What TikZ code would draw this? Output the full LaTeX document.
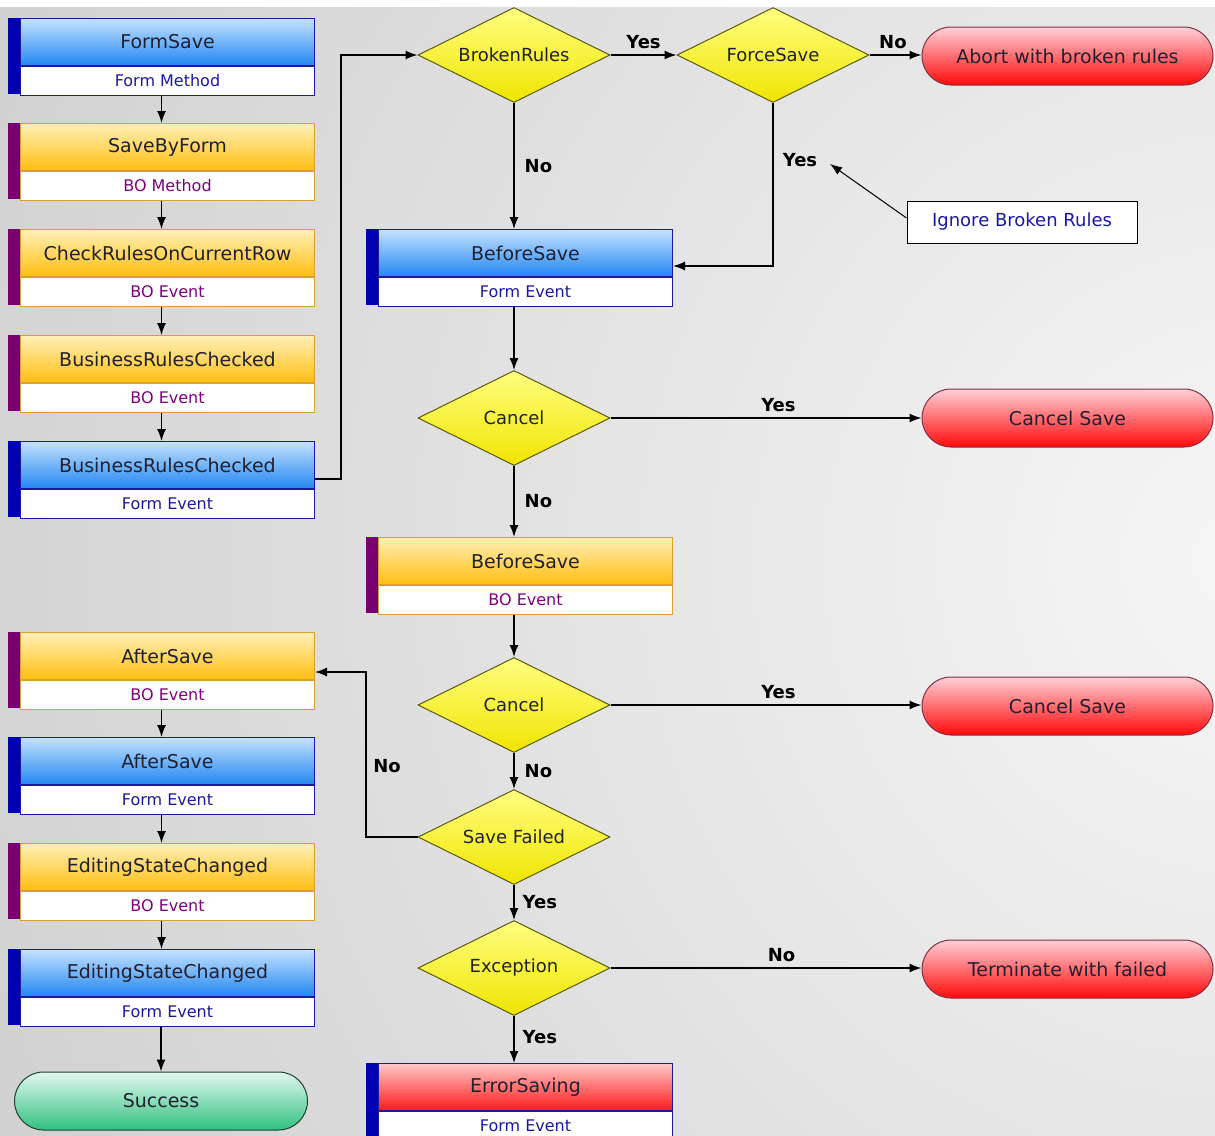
\documentclass[tikz,border=0pt]{standalone}
\usepackage{fontspec}
\setmainfont{DejaVu Sans}
\usetikzlibrary{shapes.geometric,arrows.meta}
\definecolor{bgdark}{HTML}{C0C0C0}
\definecolor{bglight}{HTML}{F6F6F6}
\definecolor{bluetop}{HTML}{C4E2FF}
\definecolor{bluebot}{HTML}{2286F2}
\definecolor{orgtop}{HTML}{FFF0B8}
\definecolor{orgbot}{HTML}{FFBE10}
\definecolor{redtop}{HTML}{FFC8C8}
\definecolor{redbot}{HTML}{FF1A1A}
\definecolor{bluebd}{HTML}{1A1A9A}
\definecolor{orgbd}{HTML}{D8A030}
\definecolor{barb}{HTML}{0000B0}
\definecolor{barp}{HTML}{780070}
\definecolor{formtx}{HTML}{1A1AA0}
\definecolor{botx}{HTML}{800080}
\definecolor{hdtx}{HTML}{202030}
\definecolor{diatop}{HTML}{FFFF80}
\definecolor{diabot}{HTML}{F0E400}
\definecolor{diabd}{HTML}{5A5A10}
\definecolor{termtop}{HTML}{FFD0D8}
\definecolor{termbot}{HTML}{FF0A0A}
\definecolor{termbd}{HTML}{803040}
\definecolor{grntop}{HTML}{E2F8EE}
\definecolor{grnbot}{HTML}{30C080}
\definecolor{grnbd}{HTML}{204030}
\definecolor{notetx}{HTML}{1A1AA0}
\newcommand\pbox[6]{%
  \node[hdr#6, anchor=north west] (#1) at (#2+12,#3) {#4};
  \node[sub#6, anchor=north] (#1s) at (#1.south) {#5};
  \fill[bar#6] (#2,#3) rectangle (#2+12,#3+76);
}
\begin{document}
\begin{tikzpicture}[x=1pt,y=-1pt,
  hdrbase/.style={rectangle, line width=1pt, text=hdtx, font=\fontsize{19}{22}\selectfont,
    inner sep=0pt, minimum width=294pt, minimum height=47pt},
  subbase/.style={rectangle, line width=1pt, fill=white, font=\fontsize{16}{19}\selectfont,
    inner sep=0pt, minimum width=294pt, minimum height=29pt},
  hdrF/.style={hdrbase, draw=bluebd, top color=bluetop, bottom color=bluebot},
  subF/.style={subbase, draw=bluebd, text=formtx},
  barF/.style={fill=barb},
  hdrB/.style={hdrbase, draw=orgbd, top color=orgtop, bottom color=orgbot},
  subB/.style={subbase, draw=orgbd, text=botx},
  barB/.style={fill=barp},
  hdrE/.style={hdrbase, draw=bluebd, top color=redtop, bottom color=redbot},
  subE/.style={subbase, draw=bluebd, text=formtx},
  barE/.style={fill=barb},
  dia/.style={diamond, aspect=2, draw=diabd, line width=1pt, top color=diatop, bottom color=diabot,
    minimum width=192pt, minimum height=95pt, inner sep=0pt, text=hdtx, font=\fontsize{18}{21}\selectfont},
  term/.style={rectangle, rounded corners=29pt, draw=termbd, line width=1pt, top color=termtop,
    bottom color=termbot, minimum width=291pt, minimum height=58pt, inner sep=0pt, text=hdtx,
    font=\fontsize{19}{22}\selectfont},
  lab/.style={font=\bfseries\fontsize{18}{21}\selectfont, text=black, inner sep=0pt},
  arr/.style={-{Latex[length=12pt,width=9pt]}, line width=1.4pt, black}
]
\useasboundingbox (0,0) rectangle (1215,1135);
\fill[white] (0,0) rectangle (1215,1135);
\begin{scope}
  \clip (0,7) rectangle (1215,1135);
  \shade[inner color=bglight, outer color=bgdark] (1250,560) circle (2000pt);
\end{scope}

% left column
\pbox{fs}{8}{18}{FormSave}{Form Method}{F}
\pbox{sbf}{8}{123}{SaveByForm}{BO Method}{B}
\pbox{crc}{8}{229}{CheckRulesOnCurrentRow}{BO Event}{B}
\pbox{brcb}{8}{335}{BusinessRulesChecked}{BO Event}{B}
\pbox{brcf}{8}{441}{BusinessRulesChecked}{Form Event}{F}
\pbox{asb}{8}{632}{AfterSave}{BO Event}{B}
\pbox{asf}{8}{737}{AfterSave}{Form Event}{F}
\pbox{escb}{8}{843}{EditingStateChanged}{BO Event}{B}
\pbox{escf}{8}{949}{EditingStateChanged}{Form Event}{F}
\node[term, minimum width=293pt, draw=grnbd, top color=grntop, bottom color=grnbot] (succ) at (161,1101) {Success};

% center column
\pbox{bsf}{366}{229}{BeforeSave}{Form Event}{F}
\pbox{bsb}{366}{537}{BeforeSave}{BO Event}{B}
\pbox{err}{366}{1063}{ErrorSaving}{Form Event}{E}

\node[dia] (br) at (514,55) {BrokenRules};
\node[dia] (fsv) at (773,55) {ForceSave};
\node[dia] (c1) at (514,418) {Cancel};
\node[dia] (c2) at (514,705) {Cancel};
\node[dia] (sf) at (514,837) {Save Failed};
\node[dia] (ex) at (514,968) {Exception};

% terminals
\node[term] (abort) at (1067.5,56) {Abort with broken rules};
\node[term] (cs1) at (1067.5,418) {Cancel Save};
\node[term] (cs2) at (1067.5,706) {Cancel Save};
\node[term] (tf) at (1067.5,969) {Terminate with failed};

% note
\node[draw=black, line width=1pt, fill=white, minimum width=230pt, minimum height=42pt, inner sep=0pt,
  text=notetx, font=\fontsize{18}{21}\selectfont] (note) at (1022,222) {Ignore Broken Rules};
\coordinate (notetip) at (830,164);

% left column connectors
\foreach \a/\b in {fss/sbf, sbfs/crc, crcs/brcb, brcbs/brcf, asbs/asf, asfs/escb, escbs/escf}
  \draw[arr] ([xshift=-6pt]\a.south) -- ([xshift=-6pt]\b.north);
\draw[arr] (succ.north |- escfs.south) -- (succ.north);

% center connectors
\draw[arr] (brcf.east |- 0,479) -- (341,479) |- (br.west);
\draw[arr] (br.east) -- node[lab, above=6pt] {Yes} (fsv.west);
\draw[arr] (fsv.east) -- node[lab, above=6pt, pos=0.45] {No} (fsv.east -| abort.west);
\draw[arr] (br.south) -- node[lab, right=10pt, pos=0.5] {No} (br.south |- bsf.north);
\draw[arr] (fsv.south) -- (fsv.south |- 0,266) -- (bsf.east |- 0,266);
\node[lab] (y2) at (800,160) {Yes};
\draw[arr] (bsfs.south -| br.south) -- (c1.north);
\draw[arr] (c1.east) -- node[lab, above=6pt, pos=0.54] {Yes} (cs1.west);
\draw[arr] (c1.south) -- node[lab, right=10pt] {No} (c1.south |- bsb.north);
\draw[arr] (bsbs.south -| c1.south) -- (c2.north);
\draw[arr] (c2.east) -- node[lab, above=6pt, pos=0.54] {Yes} (c2.east -| cs2.west);
\draw[arr] (c2.south) -- node[lab, right=10pt] {No} (sf.north);
\draw[arr] (sf.west) -- (366,837) -- (366,672) -- (asb.east |- 0,672);
\node[lab] (n5) at (387,766) {No};
\draw[arr] (sf.south) -- node[lab, right=8pt] {Yes} (ex.north);
\draw[arr] (ex.east) -- node[lab, above=6pt, pos=0.55] {No} (ex.east -| tf.west);
\draw[arr] (ex.south) -- node[lab, right=8pt, pos=0.45] {Yes} (ex.south |- err.north);
\draw[arr, line width=1pt] (note.west |- 0,218) -- (notetip);
\end{tikzpicture}
\end{document}
